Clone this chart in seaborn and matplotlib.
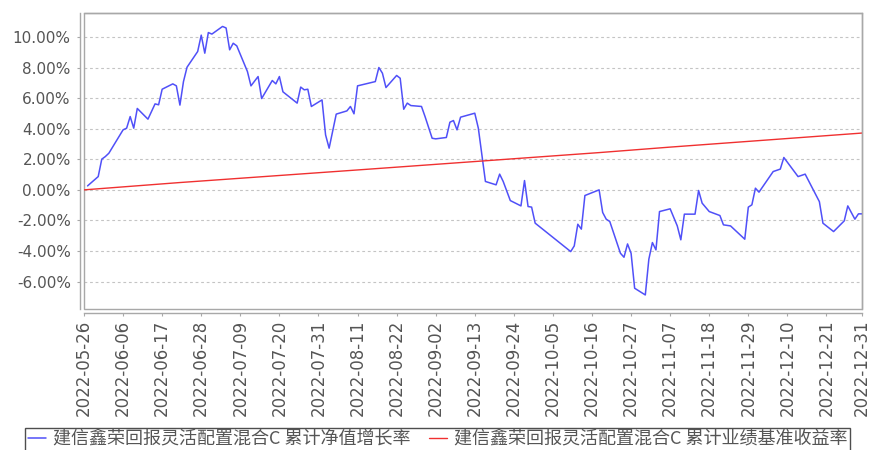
import matplotlib
matplotlib.use("Agg")
import matplotlib.dates as mdates
import matplotlib.pyplot as plt
import numpy as np
import pandas as pd
import seaborn as sns
from matplotlib.patches import Rectangle
from matplotlib.ticker import FuncFormatter

# ---------------------------------------------------------------------------
# Data (percent values)
# ---------------------------------------------------------------------------
NAV_DATES = [
    "2022-05-27", "2022-05-30", "2022-05-31", "2022-06-01", "2022-06-02",
    "2022-06-06", "2022-06-07", "2022-06-08", "2022-06-09", "2022-06-10",
    "2022-06-13", "2022-06-15", "2022-06-16", "2022-06-17", "2022-06-20",
    "2022-06-21", "2022-06-22", "2022-06-23", "2022-06-24", "2022-06-27",
    "2022-06-28", "2022-06-29", "2022-06-30", "2022-07-01", "2022-07-04",
    "2022-07-05", "2022-07-06", "2022-07-07", "2022-07-08", "2022-07-11",
    "2022-07-12", "2022-07-14", "2022-07-15", "2022-07-18", "2022-07-19",
    "2022-07-20", "2022-07-21", "2022-07-25", "2022-07-26", "2022-07-27",
    "2022-07-28", "2022-07-29", "2022-08-01", "2022-08-02", "2022-08-03",
    "2022-08-05", "2022-08-08", "2022-08-09", "2022-08-10", "2022-08-11",
    "2022-08-16", "2022-08-17", "2022-08-18", "2022-08-19", "2022-08-22",
    "2022-08-23", "2022-08-24", "2022-08-25", "2022-08-26", "2022-08-29",
    "2022-08-30", "2022-09-01", "2022-09-02", "2022-09-05", "2022-09-06",
    "2022-09-07", "2022-09-08", "2022-09-09", "2022-09-13", "2022-09-14",
    "2022-09-16", "2022-09-19", "2022-09-20", "2022-09-21", "2022-09-23",
    "2022-09-26", "2022-09-27", "2022-09-28", "2022-09-29", "2022-09-30",
    "2022-10-10", "2022-10-11", "2022-10-12", "2022-10-13", "2022-10-14",
    "2022-10-18", "2022-10-19", "2022-10-20", "2022-10-21", "2022-10-24",
    "2022-10-25", "2022-10-26", "2022-10-27", "2022-10-28", "2022-10-31",
    "2022-11-01", "2022-11-02", "2022-11-03", "2022-11-04", "2022-11-07",
    "2022-11-09", "2022-11-10", "2022-11-11", "2022-11-14", "2022-11-15",
    "2022-11-16", "2022-11-18", "2022-11-21", "2022-11-22", "2022-11-24",
    "2022-11-28", "2022-11-29", "2022-11-30", "2022-12-01", "2022-12-02",
    "2022-12-06", "2022-12-08", "2022-12-09", "2022-12-13", "2022-12-15",
    "2022-12-19", "2022-12-20", "2022-12-23", "2022-12-26", "2022-12-27",
    "2022-12-29", "2022-12-30", "2022-12-31",
]
NAV_GROWTH = [
    0.26, 0.87, 2.01, 2.18, 2.40,
    3.93, 4.04, 4.80, 4.04, 5.33,
    4.63, 5.63, 5.57, 6.59, 6.94,
    6.81, 5.55, 7.09, 8.03, 9.06,
    10.13, 8.95, 10.30, 10.20, 10.70,
    10.60, 9.17, 9.60, 9.43, 7.75,
    6.81, 7.42, 5.98, 7.16, 6.94,
    7.42, 6.42, 5.68, 6.73, 6.55,
    6.59, 5.46, 5.89, 3.60, 2.73,
    4.96, 5.17, 5.46, 4.98, 6.81,
    7.09, 8.01, 7.64, 6.70, 7.49,
    7.31, 5.28, 5.68, 5.52, 5.46,
    4.80, 3.38, 3.34, 3.43, 4.43,
    4.54, 3.93, 4.76, 5.02, 4.04,
    0.55, 0.33, 1.03, 0.55, -0.70,
    -1.05, 0.61, -1.09, -1.13, -2.18,
    -4.04, -3.67, -2.25, -2.57, -0.37,
    0.00, -1.48, -1.92, -2.07, -4.15,
    -4.41, -3.54, -4.15, -6.44, -6.88,
    -4.54, -3.45, -3.93, -1.42, -1.24,
    -2.36, -3.27, -1.59, -1.59, -0.04,
    -0.87, -1.42, -1.68, -2.29, -2.36,
    -3.23, -1.13, -0.98, 0.11, -0.15,
    1.20, 1.36, 2.12, 0.87, 1.03,
    -0.77, -2.18, -2.73, -2.03, -1.05,
    -1.92, -1.57, -1.57,
]

BENCH_DATES = ["2022-05-26", "2022-06-22", "2022-08-15", "2022-10-18",
               "2022-11-07", "2022-12-31"]
BENCH_RETURN = [0.00, 0.48, 1.37, 2.44, 2.80, 3.72]

NAV_LABEL = "建信鑫荣回报灵活配置混合C 累计净值增长率"
BENCH_LABEL = "建信鑫荣回报灵活配置混合C 累计业绩基准收益率"

START_DATE = "2022-05-26"
END_DATE = "2022-12-31"
Y_TICKS = [-6, -4, -2, 0, 2, 4, 6, 8, 10]

# ---------------------------------------------------------------------------
# Appearance
# ---------------------------------------------------------------------------
NAV_COLOR = "#5050f8"
BENCH_COLOR = "#f03030"
GRID_COLOR = "#c4c4c4"
FRAME_COLOR = "#a8a8a8"
TEXT_COLOR = "#555555"

sns.set_style("white")
plt.rcParams["font.family"] = ["DejaVu Sans", "Noto Sans CJK SC"]

nav_df = pd.DataFrame({"date": pd.to_datetime(NAV_DATES), "value": NAV_GROWTH})
bench_df = pd.DataFrame({"date": pd.to_datetime(BENCH_DATES), "value": BENCH_RETURN})

fig = plt.figure(figsize=(8.71, 4.5), dpi=100)
ax = fig.add_axes([84 / 871, 1 - 309 / 450, (862 - 84) / 871, (309 - 12.7) / 450])

sns.lineplot(data=nav_df, x="date", y="value", color=NAV_COLOR, linewidth=1.1,
             label=NAV_LABEL, ax=ax)
sns.lineplot(data=bench_df, x="date", y="value", color=BENCH_COLOR, linewidth=1.0,
             label=BENCH_LABEL, ax=ax)

ax.set_xlim(pd.Timestamp(START_DATE), pd.Timestamp(END_DATE))
ax.set_ylim(-7.8, 11.6)

tick_dates = list(pd.date_range(START_DATE, END_DATE, freq="11D"))
tick_dates.append(pd.Timestamp(END_DATE))
ax.set_xticks(tick_dates)
ax.xaxis.set_major_formatter(mdates.DateFormatter("%Y-%m-%d"))
ax.set_yticks(Y_TICKS)
ax.yaxis.set_major_formatter(FuncFormatter(lambda v, _: f"{v:.2f}%"))

ax.set_xlabel("")
ax.set_ylabel("")

ax.tick_params(axis="x", labelrotation=90, labelsize=12, labelcolor=TEXT_COLOR, pad=2)
ax.tick_params(axis="y", labelsize=11, labelcolor=TEXT_COLOR, pad=4)
ax.tick_params(axis="both", which="major", length=2.5, width=0.8,
               color=FRAME_COLOR, left=True, bottom=True)

ax.yaxis.grid(True, linestyle=(0, (2.5, 2.5)), color=GRID_COLOR, linewidth=0.8)
ax.xaxis.grid(False)

# axis lines sit a few pixels away from the plot frame
for side in ("left", "bottom"):
    ax.spines[side].set_position(("outward", 3))
    ax.spines[side].set_color(FRAME_COLOR)
    ax.spines[side].set_linewidth(1.0)
for side in ("top", "right"):
    ax.spines[side].set_color(FRAME_COLOR)
    ax.spines[side].set_linewidth(1.0)
ax.add_patch(Rectangle((0, 0), 1, 1, transform=ax.transAxes, fill=False,
                       edgecolor=FRAME_COLOR, linewidth=1.0, clip_on=False))

ax.legend_.remove()
handles, labels = ax.get_legend_handles_labels()
leg = fig.legend(handles, labels, loc="upper left", bbox_to_anchor=(25 / 871, 1 - 428 / 450),
                 ncol=2, frameon=True, fancybox=False, handlelength=1.0,
                 handletextpad=0.4, columnspacing=1.0, borderpad=0.15,
                 borderaxespad=0.0,
                 prop={"family": ["Noto Sans CJK SC", "DejaVu Sans"], "size": 13},
                 labelcolor=TEXT_COLOR)
leg.get_frame().set_edgecolor("#222222")
leg.get_frame().set_linewidth(1.0)

fig.savefig("out.png", dpi=100)
